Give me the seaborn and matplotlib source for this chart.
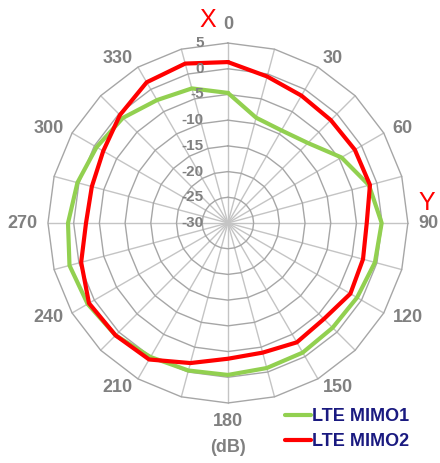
import numpy as np
import pandas as pd
import matplotlib
matplotlib.use("Agg")
import matplotlib.pyplot as plt
from matplotlib.transforms import offset_copy
import seaborn as sns

# angles in degrees, clockwise from the top (X axis)
ANGLES = list(range(0, 360, 15))
MIMO1 = [-4.7, -8.8, -9.2, -8.0, -4.5, -1.6, -0.1, -0.4, -1.0, -1.2, -0.9, -0.8,
         -0.45, -0.3, 0.1, 0.9, 1.5, 1.9, 1.1, 0.3, -0.5, -1.1, -2.4, -2.9]
MIMO2 = [1.3, -0.5, -1.4, -1.7, -1.5, -1.4, -3.0, -2.8, -2.5, -3.6, -3.2, -3.9,
         -3.6, -1.8, 0.65, 0.9, 1.2, -0.45, -2.4, -2.6, -2.0, -0.3, 1.6, 2.1]
SERIES = ["LTE MIMO1", "LTE MIMO2"]
RINGS = [-30, -25, -20, -15, -10, -5, 0, 5]
ANGLE_LABELS = list(range(0, 360, 30))

COLORS = {"LTE MIMO1": "#92D050", "LTE MIMO2": "#FF0000"}
GRAY = "#808080"


def build_frame():
    rows = []
    for name, vals in zip(SERIES, [MIMO1, MIMO2]):
        # close the loop by repeating the first point at 360 deg
        for a, v in zip(ANGLES + [360], vals + [vals[0]]):
            rows.append({"theta": np.deg2rad(a), "dB": v, "series": name})
    return pd.DataFrame(rows)


def label_align(a):
    if a == 0:
        return "center", "bottom"
    if a == 180:
        return "center", "top"
    return ("left" if a < 180 else "right"), "center"


def main():
    sns.set_theme(style="white")
    plt.rcParams["font.family"] = ["Liberation Sans", "DejaVu Sans"]

    fig = plt.figure(figsize=(4.40, 4.63), dpi=100)
    ax = fig.add_axes([0.109, 0.1296, 0.818, 0.7775], projection="polar")
    ax.set_theta_zero_location("N")
    ax.set_theta_direction(-1)
    ax.set_ylim(RINGS[0], RINGS[-1])
    ax.grid(False)
    ax.set_xticks([])
    ax.set_yticks([])
    ax.spines["polar"].set_visible(False)

    theta = np.deg2rad(ANGLES + [360])
    # polygonal rings
    for r in RINGS[1:]:
        ax.plot(theta, [r] * len(theta), color="#a6a6a6", lw=1.0,
                zorder=1, clip_on=False)
    # spokes
    for a in ANGLES:
        ax.plot([np.deg2rad(a)] * 2, [RINGS[0], RINGS[-1]], color="#c4c4c4",
                lw=1.0, zorder=0.9, clip_on=False)

    df = build_frame()
    sns.lineplot(data=df, x="theta", y="dB", hue="series", hue_order=SERIES,
                 palette=COLORS, estimator=None, sort=False, linewidth=3.0,
                 legend=False, ax=ax, zorder=3)
    ax.set_xlabel("")
    ax.set_ylabel("")
    for line in ax.get_lines()[-2:]:
        line.set_clip_on(False)

    # radial labels along the 0 deg spoke
    trans = offset_copy(ax.transData, fig=fig, x=-24, y=0, units="dots")
    for r in RINGS:
        ax.text(0, r, str(r), transform=trans, ha="right", va="center",
                fontsize=11, fontweight="bold", color=GRAY)

    # angle labels, anchored just outside the outer ring
    for a in ANGLE_LABELS:
        ha, va = label_align(a)
        ax.text(np.deg2rad(a), 6.95, str(a), ha=ha, va=va,
                fontsize=13, fontweight="bold", color=GRAY)

    fig.text(208 / 440, 1 - 20 / 463, "X", color="red", fontsize=18,
             ha="center", va="center")
    fig.text(427 / 440, 1 - 203 / 463, "Y", color="red", fontsize=18,
             ha="center", va="center")
    fig.text(228 / 440, 1 - 448 / 463, "(dB)", color=GRAY, fontsize=13,
             fontweight="bold", ha="center", va="center")

    handles = ax.get_lines()[-2:]
    fig.legend(handles, SERIES, loc="upper left",
               bbox_to_anchor=(285 / 440, 1 - 408 / 463), frameon=False,
               borderpad=0, borderaxespad=0, handlelength=1.45,
               handletextpad=0.05, labelspacing=0.45,
               prop={"family": "Liberation Sans", "weight": "bold", "size": 13},
               labelcolor="#1a1a80")

    fig.savefig("out.png", dpi=100)


if __name__ == "__main__":
    main()
